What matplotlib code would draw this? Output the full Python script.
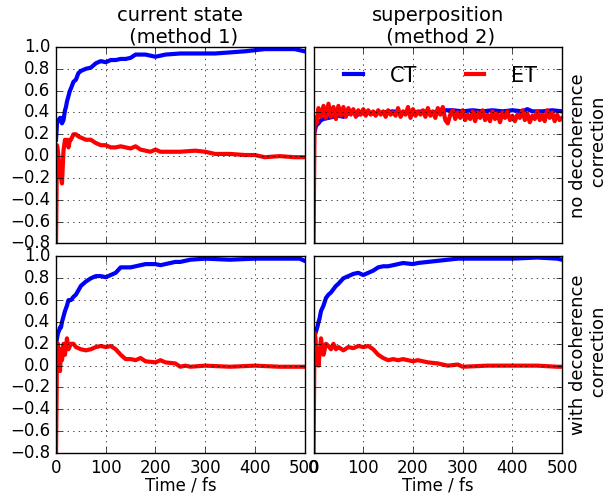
import numpy as np
import matplotlib
matplotlib.use("Agg")
import matplotlib.pyplot as plt

plt.style.use("classic")

# top-left: current state, no decoherence correction
t_cs_nd = [0, 2, 5, 8, 10, 12, 15, 18, 20, 22, 25, 28, 30, 35, 40, 45, 50, 60, 70, 80, 90, 100,
           110, 120, 130, 140, 150, 160, 170, 180, 190, 200, 210, 220, 250, 280, 300, 320, 350,
           380, 400, 420, 450, 480, 500]
ct_cs_nd = [0.15, 0.3, 0.33, 0.35, 0.35, 0.3, 0.33, 0.42, 0.45, 0.5, 0.55, 0.6, 0.62, 0.68, 0.7,
            0.76, 0.78, 0.8, 0.81, 0.85, 0.87, 0.86, 0.88, 0.88, 0.89, 0.89, 0.9, 0.93, 0.93,
            0.93, 0.92, 0.91, 0.92, 0.93, 0.94, 0.94, 0.94, 0.94, 0.95, 0.96, 0.97, 0.98,
            0.98, 0.98, 0.96]
et_cs_nd = [-0.8, 0.1, 0.0, -0.15, -0.2, -0.25, 0.05, 0.15, 0.12, 0.15, 0.08, 0.15, 0.15, 0.2, 0.2,
            0.18, 0.17, 0.15, 0.15, 0.12, 0.1, 0.1, 0.08, 0.08, 0.09, 0.08, 0.07, 0.09, 0.06,
            0.05, 0.04, 0.06, 0.04, 0.04, 0.04, 0.05, 0.04, 0.02, 0.02, 0.01, 0.01, -0.01,
            0.0, -0.01, -0.01]

# top-right: superposition, no decoherence correction
t_sp_nd_ct = [0, 2, 5, 10, 15, 20, 30, 40, 50, 60, 70, 80, 90, 100, 120, 140, 160, 180, 200, 220,
              240, 260, 280, 300, 320, 340, 360, 380, 400, 420, 430, 440, 460, 480, 500]
ct_sp_nd = [0.2, 0.22, 0.28, 0.3, 0.33, 0.34, 0.35, 0.36, 0.37, 0.36, 0.39, 0.4, 0.38, 0.41, 0.39,
            0.4, 0.41, 0.39, 0.4, 0.41, 0.4, 0.42, 0.42, 0.41, 0.42, 0.41, 0.42, 0.41, 0.42,
            0.41, 0.43, 0.41, 0.41, 0.42, 0.41]
t_sp_nd_et = [0, 2, 4, 6] + list(range(10, 505, 5))
et_sp_nd = [-0.8, 0.3, 0.35, 0.3,
            0.44, 0.36, 0.46, 0.35, 0.48, 0.36, 0.45, 0.34, 0.46, 0.37, 0.45, 0.36, 0.44, 0.38,
            0.43, 0.36, 0.42, 0.38, 0.43, 0.37, 0.42, 0.38, 0.41, 0.37, 0.42, 0.38, 0.41, 0.36,
            0.42, 0.38, 0.40, 0.37, 0.44, 0.36, 0.41, 0.38, 0.45, 0.35, 0.43, 0.37, 0.41, 0.38,
            0.42, 0.36, 0.44, 0.37, 0.41, 0.35, 0.44, 0.38, 0.45, 0.33, 0.30, 0.38, 0.42, 0.34,
            0.40, 0.35, 0.42, 0.33, 0.38, 0.34, 0.41, 0.32, 0.40, 0.35, 0.42, 0.33, 0.38, 0.32,
            0.41, 0.34, 0.39, 0.31, 0.40, 0.35, 0.41, 0.33, 0.37, 0.32, 0.38, 0.35, 0.42, 0.33,
            0.39, 0.31, 0.37, 0.34, 0.41, 0.33, 0.38, 0.32, 0.42, 0.35, 0.40, 0.32, 0.38, 0.33,
            0.35]

# bottom-left: current state, with decoherence correction
t_cs_dc = [0, 2, 4, 6, 8, 10, 12, 15, 18, 22, 25, 30, 35, 40, 50, 60, 70, 80, 90, 100, 110, 120,
           130, 140, 150, 160, 170, 180, 200, 210, 220, 240, 250, 260, 270, 300, 350, 400, 450,
           490, 500]
ct_cs_dc = [0.2, 0.25, 0.3, 0.32, 0.35, 0.35, 0.4, 0.45, 0.5, 0.55, 0.6, 0.6, 0.63, 0.65, 0.73,
            0.77, 0.8, 0.82, 0.82, 0.81, 0.83, 0.85, 0.9, 0.9, 0.9, 0.91, 0.92, 0.93, 0.93,
            0.92, 0.93, 0.95, 0.95, 0.96, 0.97, 0.98, 0.97, 0.98, 0.98, 0.98, 0.96]
et_cs_dc = [-0.8, 0.15, 0.2, 0.05, -0.05, 0.15, 0.05, 0.2, 0.1, 0.25, 0.15, 0.2, 0.2, 0.17, 0.15,
            0.14, 0.15, 0.17, 0.18, 0.17, 0.18, 0.15, 0.1, 0.06, 0.06, 0.05, 0.07, 0.04,
            0.03, 0.05, 0.03, 0.02, -0.01, 0.0, -0.01, 0.0, -0.01, 0.0, -0.01, -0.01, -0.01]

# bottom-right: superposition, with decoherence correction
t_sp_dc = [0, 2, 4, 6, 8, 10, 12, 15, 18, 20, 25, 30, 35, 40, 45, 50, 60, 70, 80, 90, 100, 110,
           120, 130, 140, 150, 160, 170, 180, 200, 210, 230, 250, 270, 290, 300, 350, 400, 450,
           490, 500]
ct_sp_dc = [0.25, 0.27, 0.3, 0.33, 0.36, 0.4, 0.43, 0.5, 0.53, 0.55, 0.62, 0.65, 0.67, 0.7, 0.73,
            0.75, 0.8, 0.82, 0.84, 0.85, 0.83, 0.85, 0.87, 0.9, 0.91, 0.91, 0.92, 0.93, 0.94,
            0.93, 0.94, 0.95, 0.96, 0.97, 0.98, 0.98, 0.98, 0.98, 0.99, 0.98, 0.97]
et_sp_dc = [-0.8, 0.3, 0.25, 0.05, 0.15, 0.0, 0.1, 0.25, 0.15, 0.1, 0.2, 0.18, 0.15, 0.2, 0.15,
            0.17, 0.14, 0.17, 0.16, 0.18, 0.17, 0.18, 0.15, 0.1, 0.07, 0.05, 0.06, 0.05, 0.06,
            0.04, 0.05, 0.03, 0.02, 0.0, 0.01, -0.01, 0.0, 0.0, 0.0, -0.01, -0.01]

titles = ["current state\n (method 1)", "superposition\n (method 2)"]
row_labels = ["no decoherence\n correction", "with decoherence\n correction"]

fig, axes = plt.subplots(2, 2, figsize=(6.13, 4.94), dpi=100, facecolor="white")
fig.subplots_adjust(left=0.0914, right=0.917, top=0.905, bottom=0.083, wspace=0.036, hspace=0.066)

panels = [
    [(t_cs_nd, ct_cs_nd, t_cs_nd, et_cs_nd), (t_sp_nd_ct, ct_sp_nd, t_sp_nd_et, et_sp_nd)],
    [(t_cs_dc, ct_cs_dc, t_cs_dc, et_cs_dc), (t_sp_dc, ct_sp_dc, t_sp_dc, et_sp_dc)],
]

for i in range(2):
    for j in range(2):
        ax = axes[i][j]
        tc, ct, te, et = panels[i][j]
        ax.plot(tc, ct, color="b", lw=3, label="CT")
        ax.plot(te, et, color="r", lw=3, label="ET")
        ax.set_xlim(0, 500)
        ax.set_ylim(-0.8, 1.0)
        ax.set_yticks(np.arange(-0.8, 1.01, 0.2))
        ax.set_xticks(np.arange(0, 501, 100))
        ax.grid(True)
        ax.tick_params(labelsize=12)
        if i == 0:
            ax.set_title(titles[j], fontsize=14, pad=3)
            ax.set_xticklabels([])
        else:
            ax.set_xlabel("Time / fs", fontsize=12, labelpad=0)
        if j == 1:
            ax.set_yticklabels([])
            ax.yaxis.set_label_position("right")
            ax.set_ylabel(row_labels[i], fontsize=13)

axes[0][1].legend(loc="upper center", ncol=2, frameon=False, fontsize=15,
                  handlelength=1.5, columnspacing=2.0, handletextpad=1.0)

plt.savefig("out.png", dpi=100, facecolor="white")
